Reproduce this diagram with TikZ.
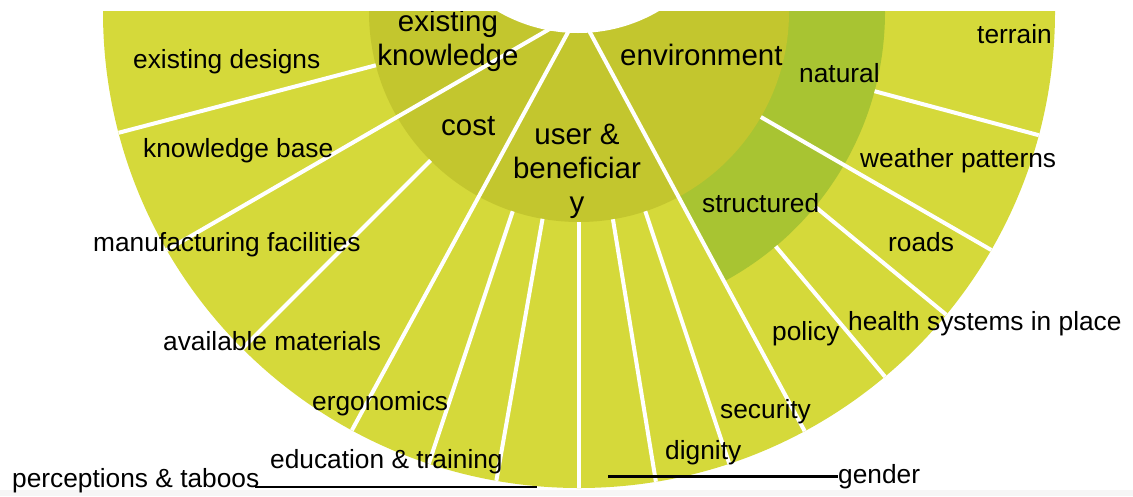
\documentclass[tikz,border=0pt]{standalone}
\usepackage{fontspec}
\setmainfont{Liberation Sans}
\definecolor{hoja}{RGB}{213,217,58}
\definecolor{rama}{RGB}{195,198,46}
\definecolor{subrama}{RGB}{168,196,50}
\begin{document}
\begin{tikzpicture}[x=1pt,y=1pt,
    leaf/.style={font=\fontsize{26.3}{30}\selectfont,anchor=base west,inner sep=0pt},
    branch/.style={font=\fontsize{29.5}{34}\selectfont,align=center,inner sep=0pt},
    sep/.style={white,line width=4pt},
    leader/.style={black,line width=2.8pt}]
\def\rOut{476}%radio anillo exterior
\def\rSub{306}%radio natural/structured
\def\rMid{210}%radio ramas
\def\rHub{160}%radio centro

\useasboundingbox (0,0) rectangle (1133,-496);
\fill[gray!7] (0,-490) rectangle (1133,-496);

\begin{scope}
\clip (0,-11) rectangle (1133,-496);
\coordinate (c) at (579,-12);

%Anillos
\fill[hoja] (c) circle[radius=\rOut];
\fill[subrama] (c) -- ([shift={(298.3:\rSub)}]c) arc[start angle=298.3,end angle=365,radius=\rSub] -- cycle;
\fill[rama] (c) circle[radius=\rMid];
\fill[white] (578,127) circle[radius=\rHub];

%Separadores
\foreach \t in {30,61.5,118.3}{
    \draw[sep] (c) -- ([shift={(180+\t:\rOut)}]c);
}
\foreach \t in {14.7,45,71.6,80,90,99.3,108.4,150}{
    \draw[sep] ([shift={(180+\t:\rMid)}]c) -- ([shift={(180+\t:\rOut)}]c);
}
\foreach \t in {130,140.5,165}{
    \draw[sep] ([shift={(180+\t:\rSub)}]c) -- ([shift={(180+\t:\rOut)}]c);
}

%Ramas
\node[branch] (exk) at (448,-41) {existing\\knowledge};
\node[branch,anchor=base west] (cost) at (441,-135) {cost};
\node[branch] (user) at (577,-171.6) {user \&\\beneficiar\\y};
\node[branch,anchor=base west] (env) at (620,-65) {environment};
\node[leaf] (natural) at (799,-82) {natural};
\node[leaf] (structured) at (702,-212) {structured};
\end{scope}

%Hojas
\node[leaf] (designs) at (133,-68) {existing designs};
\node[leaf] (kbase) at (143,-157) {knowledge base};
\node[leaf] (facilities) at (93,-251) {manufacturing facilities};
\node[leaf] (materials) at (163,-350) {available materials};
\node[leaf] (ergo) at (312,-410) {ergonomics};
\node[leaf] (training) at (270,-468) {education \& training};
\node[leaf] (taboos) at (12,-487) {perceptions \& taboos};
\node[leaf] (gender) at (838,-483) {gender};
\node[leaf] (dignity) at (665,-459) {dignity};
\node[leaf] (security) at (720,-418) {security};
\node[leaf] (policy) at (772,-340) {policy};
\node[leaf] (health) at (848,-330) {health systems in place};
\node[leaf] (roads) at (888,-251) {roads};
\node[leaf] (weather) at (860,-167) {weather patterns};
\node[leaf] (terrain) at (977,-43) {terrain};

%Lineas de referencia
\coordinate (tabooEnd) at (537,-487);
\coordinate (genderEnd) at (608,-478);
\draw[leader] ([xshift=-4pt]taboos.base east) -- (tabooEnd);
\draw[leader] (gender.west) -- (gender.west -| genderEnd);
\end{tikzpicture}
\end{document}
